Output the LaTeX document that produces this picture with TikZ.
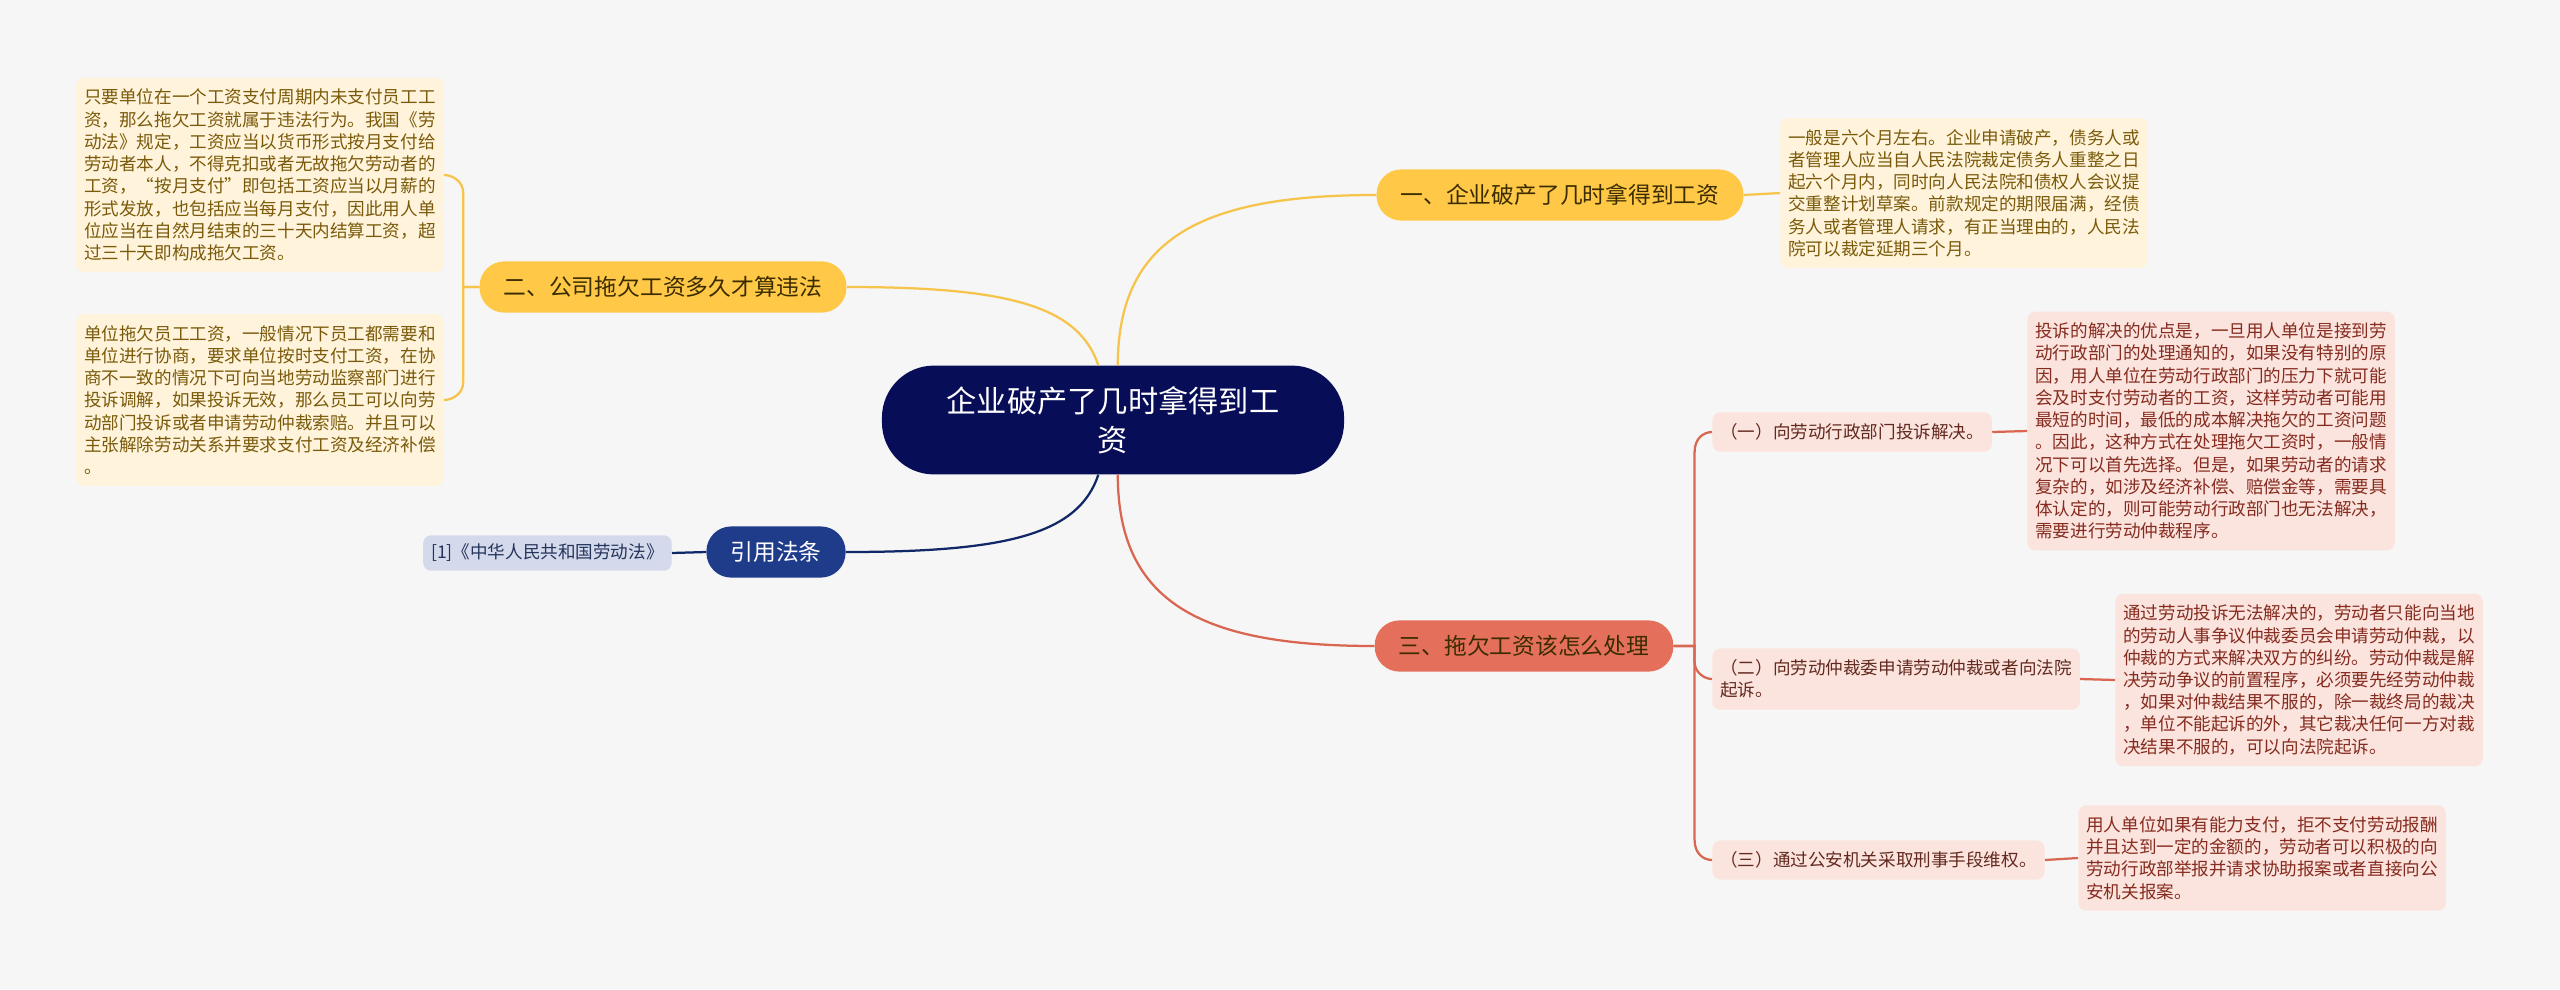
\documentclass[tikz,border=0pt]{standalone}
\usepackage{fontspec}
\newfontfamily\cjk{Noto Sans CJK SC}
\definecolor{bgc}{HTML}{F6F6F6}
\definecolor{rootc}{HTML}{080D58}
\definecolor{ybr}{HTML}{FFC847}
\definecolor{yln}{HTML}{F6C44A}
\definecolor{ylf}{HTML}{FFF4DB}
\definecolor{ytx}{HTML}{7A5A0A}
\definecolor{rbr}{HTML}{E4705C}
\definecolor{rln}{HTML}{D96650}
\definecolor{rlf}{HTML}{FBE4DE}
\definecolor{rtx}{HTML}{862B1F}
\definecolor{stx}{HTML}{62291E}
\definecolor{bbr}{HTML}{1F3C8A}
\definecolor{bln}{HTML}{112868}
\definecolor{blf}{HTML}{D4DAEC}
\definecolor{btx}{HTML}{24345A}
\definecolor{dtx}{HTML}{3B2C00}
\begin{document}
\begin{tikzpicture}[x=0.025cm,y=-0.025cm,
    every node/.style={font=\cjk},
    root/.style={fill=rootc,text=white,rounded corners=1.3cm,minimum width=11.55cm,
      minimum height=2.72cm,align=center,font=\cjk\fontsize{21.5}{28}\selectfont},
    branch/.style={rounded corners=0.62cm,minimum height=1.28cm,inner xsep=0.6cm,
      font=\cjk\fontsize{16.2}{20}\selectfont},
    leaf/.style={rounded corners=0.2cm,inner xsep=0.2cm,inner ysep=0.28cm,align=left,
      font=\cjk\fontsize{12.5}{15.8}\selectfont},
    yl/.style={draw=yln,line width=1.6pt},
    rl/.style={draw=rln,line width=1.6pt},
    bl/.style={draw=bln,line width=1.6pt}]
  \fill[bgc] (0,0) rectangle (2560,989);
  \node[root] (0) at (1113,420) {企业破产了几时拿得到工\\资};
  % yellow branches
  \node[branch,fill=ybr,text=dtx] (1) at (1560,195) {一、企业破产了几时拿得到工资};
  \node[branch,fill=ybr,text=dtx] (2) at (663,287) {二、公司拖欠工资多久才算违法};
  \node[leaf,fill=ylf,text=ytx,anchor=west] (1a) at (1780,193) {一般是六个月左右。企业申请破产，债务人或\\者管理人应当自人民法院裁定债务人重整之日\\起六个月内，同时向人民法院和债权人会议提\\交重整计划草案。前款规定的期限届满，经债\\务人或者管理人请求，有正当理由的，人民法\\院可以裁定延期三个月。};
  \node[leaf,fill=ylf,text=ytx,anchor=east] (2a) at (444,175) {只要单位在一个工资支付周期内未支付员工工\\资，那么拖欠工资就属于违法行为。我国《劳\\动法》规定，工资应当以货币形式按月支付给\\劳动者本人，不得克扣或者无故拖欠劳动者的\\工资，“按月支付”即包括工资应当以月薪的\\形式发放，也包括应当每月支付，因此用人单\\位应当在自然月结束的三十天内结算工资，超\\过三十天即构成拖欠工资。};
  \node[leaf,fill=ylf,text=ytx,anchor=east] (2b) at (444,400) {单位拖欠员工工资，一般情况下员工都需要和\\单位进行协商，要求单位按时支付工资，在协\\商不一致的情况下可向当地劳动监察部门进行\\投诉调解，如果投诉无效，那么员工可以向劳\\动部门投诉或者申请劳动仲裁索赔。并且可以\\主张解除劳动关系并要求支付工资及经济补偿\\。};
  % red branch
  \node[branch,fill=rbr,text=dtx] (3) at (1524,646) {三、拖欠工资该怎么处理};
  \node[leaf,fill=rlf,text=stx,anchor=west] (3a) at (1712,432) {（一）向劳动行政部门投诉解决。};
  \node[leaf,fill=rlf,text=stx,anchor=west] (3b) at (1712,679) {（二）向劳动仲裁委申请劳动仲裁或者向法院\\起诉。};
  \node[leaf,fill=rlf,text=stx,anchor=west] (3c) at (1712,860) {（三）通过公安机关采取刑事手段维权。};
  \node[leaf,fill=rlf,text=rtx,anchor=west] (3a1) at (2027,431) {投诉的解决的优点是，一旦用人单位是接到劳\\动行政部门的处理通知的，如果没有特别的原\\因，用人单位在劳动行政部门的压力下就可能\\会及时支付劳动者的工资，这样劳动者可能用\\最短的时间，最低的成本解决拖欠的工资问题\\。因此，这种方式在处理拖欠工资时，一般情\\况下可以首先选择。但是，如果劳动者的请求\\复杂的，如涉及经济补偿、赔偿金等，需要具\\体认定的，则可能劳动行政部门也无法解决，\\需要进行劳动仲裁程序。};
  \node[leaf,fill=rlf,text=rtx,anchor=west] (3b1) at (2115,680) {通过劳动投诉无法解决的，劳动者只能向当地\\的劳动人事争议仲裁委员会申请劳动仲裁，以\\仲裁的方式来解决双方的纠纷。劳动仲裁是解\\决劳动争议的前置程序，必须要先经劳动仲裁\\，如果对仲裁结果不服的，除一裁终局的裁决\\，单位不能起诉的外，其它裁决任何一方对裁\\决结果不服的，可以向法院起诉。};
  \node[leaf,fill=rlf,text=rtx,anchor=west] (3c1) at (2078,858) {用人单位如果有能力支付，拒不支付劳动报酬\\并且达到一定的金额的，劳动者可以积极的向\\劳动行政部举报并请求协助报案或者直接向公\\安机关报案。};
  % reference branch
  \node[branch,fill=bbr,text=white] (4) at (776,552) {引用法条};
  \node[leaf,fill=blf,text=btx,anchor=east,inner ysep=0.22cm] (4a) at (672,553) {[1]《中华人民共和国劳动法》};
  % connectors
  \draw[yl] (0.85) .. controls +(0,-130) and +(-170,0) .. (1.west);
  \draw[yl] (0.105) .. controls +(-20,-60) and +(160,0) .. (2.east);
  \draw[rl] (0.-85) .. controls +(0,130) and +(-170,0) .. (3.west);
  \draw[bl] (0.-105) .. controls +(-20,60) and +(160,0) .. (4.east);
  \draw[yl] (1.east) -- (1a.west);
  \draw[yl] (2.west) -- ++(-16,0) -- ++(0,-94) .. controls +(0,-12) and +(8,0) .. (2a.east);
  \draw[yl] (2.west) -- ++(-16,0) -- ++(0,95) .. controls +(0,12) and +(8,0) .. (2b.east);
  \draw[rl] (3.east) -- ++(21,0) -- ++(0,-194) .. controls +(0,-14) and +(-8,0) .. (3a.west);
  \draw[rl] (3.east) -- ++(21,0) -- ++(0,16) .. controls +(0,10) and +(-8,0) .. (3b.west);
  \draw[rl] (3.east) -- ++(21,0) -- ++(0,194) .. controls +(0,14) and +(-8,0) .. (3c.west);
  \draw[rl] (3a.east) -- (3a1.west);
  \draw[rl] (3b.east) -- (3b1.west);
  \draw[rl] (3c.east) -- (3c1.west);
  \draw[bl] (4.west) -- (4a.east);
\end{tikzpicture}
\end{document}
